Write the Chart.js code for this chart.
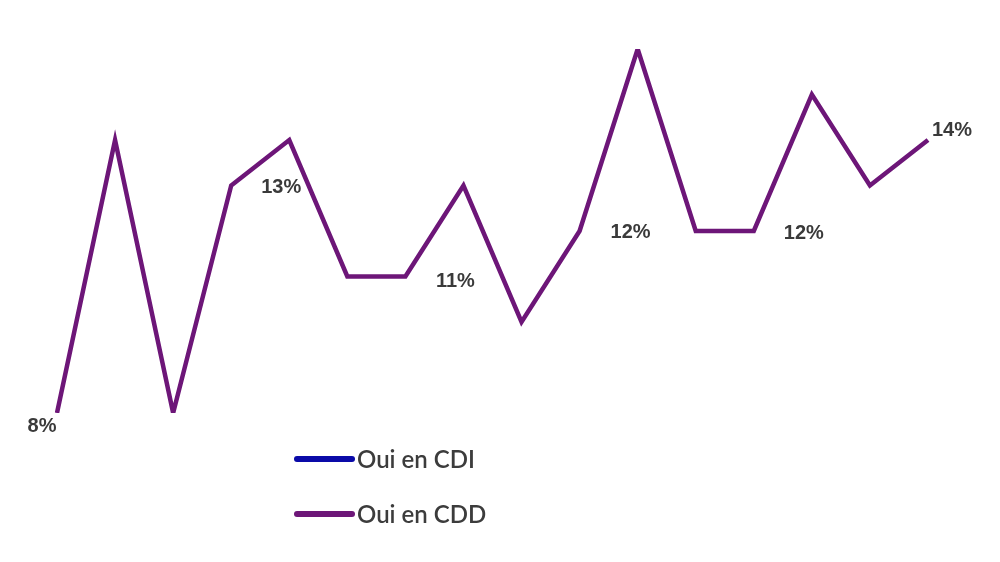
<!DOCTYPE html>
<html>
<head>
<meta charset="utf-8">
<script src="https://cdn.jsdelivr.net/npm/chart.js@4"></script>
<style>
    html, body { margin: 0; padding: 0; background: #fff; }
    #wrap { width: 1000px; height: 562px; position: relative; }
</style>
</head>
<body>
<div id="wrap"><canvas id="chart"></canvas></div>
<script>
// Data
const periods = ['1', '2', '3', '4', '5', '6', '7', '8', '9', '10', '11', '12', '13', '14', '15', '16'];
const cdiValues = [];
const cddValues = [8, 14, 8, 13, 14, 11, 11, 13, 10, 12, 16, 12, 12, 15, 13, 14];
const labelledPoints = [0, 3, 6, 9, 12, 15];

// Label offsets (pixels) for each labelled point, same order as labelledPoints
const labelOffsets = [
    { dx: -15, dy: 13 },
    { dx: 50, dy: 2 },
    { dx: 50, dy: 5 },
    { dx: 51, dy: 1 },
    { dx: 50, dy: 2 },
    { dx: 24, dy: -10 }
];

// Draws the percentage labels next to the chosen points
const pointLabels = {
    id: 'pointLabels',
    afterDatasetsDraw(chart) {
        const ctx = chart.ctx;
        const meta = chart.getDatasetMeta(1);
        const values = chart.data.datasets[1].data;
        ctx.save();
        ctx.font = 'bold 20px "Liberation Sans", Arial, sans-serif';
        ctx.fillStyle = '#3a3a3a';
        ctx.textAlign = 'center';
        ctx.textBaseline = 'middle';
        labelledPoints.forEach((i, k) => {
            const pt = meta.data[i];
            ctx.fillText(values[i] + '%', pt.x + labelOffsets[k].dx, pt.y + labelOffsets[k].dy);
        });
        ctx.restore();
    }
};

// Vertical legend under the chart
const stackedLegend = {
    id: 'stackedLegend',
    afterDraw(chart) {
        const ctx = chart.ctx;
        ctx.save();
        ctx.font = '600 24px Lato, "Open Sans", sans-serif';
        ctx.textBaseline = 'middle';
        chart.data.datasets.forEach((ds, i) => {
            const y = 459 + i * 55;
            ctx.strokeStyle = ds.borderColor;
            ctx.lineWidth = 6;
            ctx.lineCap = 'round';
            ctx.beginPath();
            ctx.moveTo(297, y);
            ctx.lineTo(352, y);
            ctx.stroke();
            ctx.fillStyle = '#3c3c3c';
            ctx.fillText(ds.label, 357, y + 1);
        });
        ctx.restore();
    }
};

new Chart(document.getElementById('chart'), {
    type: 'line',
    data: {
        labels: periods,
        datasets: [
            {
                label: 'Oui en CDI',
                data: cdiValues,
                borderColor: '#0a0aa8',
                borderWidth: 4.5,
                pointRadius: 0,
                fill: false
            },
            {
                label: 'Oui en CDD',
                data: cddValues,
                borderColor: '#6d1678',
                borderWidth: 4.5,
                borderJoinStyle: 'miter',
                pointRadius: 0,
                tension: 0,
                fill: false
            }
        ]
    },
    options: {
        responsive: true,
        maintainAspectRatio: false,
        animation: false,
        layout: { padding: { left: 57, right: 72, top: 49, bottom: 149 } },
        plugins: {
            legend: { display: false },
            tooltip: { enabled: false }
        },
        scales: {
            x: { display: false, offset: false },
            y: { display: false, min: 8, max: 16 }
        }
    },
    plugins: [pointLabels, stackedLegend]
});
</script>
</body>
</html>
